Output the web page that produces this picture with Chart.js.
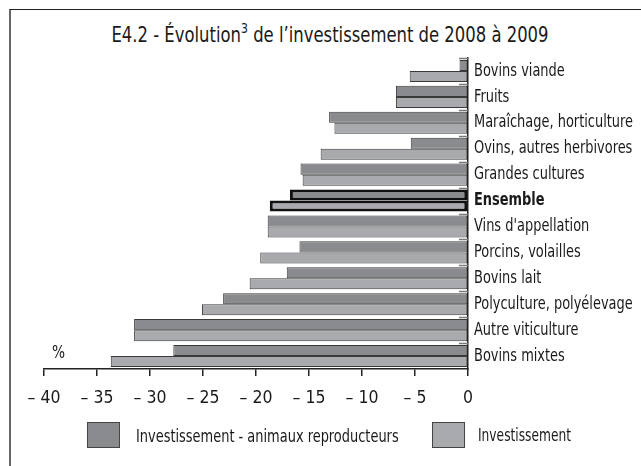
<!DOCTYPE html>
<html lang="fr">
<head>
<meta charset="utf-8">
<script src="https://cdn.jsdelivr.net/npm/chart.js@4.4.1/dist/chart.umd.min.js"></script>
<style>
  html, body { margin: 0; padding: 0; background: #fff; }
  #wrap { position: relative; width: 641px; height: 466px; overflow: hidden;
          font-family: "DejaVu Sans Condensed", "Liberation Sans", sans-serif; color: #1a1a1a; }
  #frame { position: absolute; left: 9px; top: 9px; width: 700px; height: 600px;
           border-top: 1px solid #222; border-left: 2px solid #666; }
  #title { position: absolute; left: 330px; top: 22px; white-space: nowrap;
           font-size: 21px; line-height: 26px; transform: translateX(-50%) scaleX(0.87); transform-origin: 50% 50%; }
  #title sup { font-size: 14px; line-height: 0; position: relative; top: -1px; }
  #pct { position: absolute; left: 52px; top: 342px; font-size: 18px; line-height: 20px; transform: scaleX(0.85); transform-origin: 0 0; }
  .lg { position: absolute; top: 422px; height: 26px; display: flex; align-items: center; white-space: nowrap; }
  .lg .box { width: 31px; height: 24px; border: 1px solid #444; margin-right: 16px; flex: none; }
  .lg span { font-size: 18px; display: inline-block; transform: scaleX(0.8); transform-origin: 0 50%; }
  canvas { position: absolute; left: 0; top: 0; }
</style>
</head>
<body>
<div id="wrap">
  <div id="frame"></div>
  <div id="title">E4.2 - Évolution<sup>3</sup> de l’investissement de 2008 à 2009</div>
  <canvas id="c" width="641" height="466"></canvas>
  <div id="pct">%</div>
  <div class="lg" style="left:87px"><div class="box" id="box0"></div><span id="lab0"></span></div>
  <div class="lg" style="left:432px"><div class="box" id="box1" style="margin-right:13px"></div><span id="lab1" style="font-size:17px"></span></div>
</div>
<script>
const categories = ['Bovins viande', 'Fruits', 'Maraîchage, horticulture', 'Ovins, autres herbivores',
  'Grandes cultures', 'Ensemble', "Vins d'appellation", 'Porcins, volailles', 'Bovins lait',
  'Polyculture, polyélevage', 'Autre viticulture', 'Bovins mixtes'];
const highlightCategory = 'Ensemble';
const seriesNames = ['Investissement - animaux reproducteurs', 'Investissement'];
const investHorsRepro = [-0.8, -6.8, -13.1, -5.4, -15.8, -16.8, -18.9, -15.9, -17.1, -23.1, -31.5, -27.8];
const investTotal = [-5.5, -6.8, -12.6, -13.9, -15.6, -18.7, -18.9, -19.6, -20.6, -25.1, -31.5, -33.7];
const xTickValues = [-40, -35, -30, -25, -20, -15, -10, -5, 0];
const xTickLabels = ['– 40', '– 35', '– 30', '– 25', '– 20', '– 15', '– 10', '– 5', '0'];

const FONT = '"DejaVu Sans Condensed", "Liberation Sans", sans-serif';
const colors = ['#8a8b8e', '#a9aaad'];

document.getElementById('lab0').textContent = seriesNames[0];
document.getElementById('lab1').textContent = seriesNames[1];
document.getElementById('box0').style.background = colors[0];
document.getElementById('box1').style.background = colors[1];

const isHi = ctx => categories[ctx.dataIndex] === highlightCategory;

// small tick marks on the inner side of the category axis, at category boundaries
const leftTicks = {
  id: 'leftTicks',
  afterDatasetsDraw(chart) {
    const y = chart.scales.y, ctx = chart.ctx, right = chart.chartArea.right;
    ctx.save();
    ctx.strokeStyle = '#777';
    ctx.lineWidth = 1.5;
    for (let i = 0; i < categories.length; i++) {
      const half = (i === 0 ? (y.getPixelForTick(1) - y.getPixelForTick(0)) : (y.getPixelForTick(i) - y.getPixelForTick(i - 1))) / 2;
      const py = Math.round(y.getPixelForTick(i) - half) + 0.5;
      ctx.beginPath();
      ctx.moveTo(right - 9, py);
      ctx.lineTo(right, py);
      ctx.stroke();
    }
    ctx.restore();
  }
};

// narrow the category labels horizontally (condensed look)
const condenseY = {
  id: 'condenseY',
  beforeDraw(chart) {
    const s = chart.scales.y;
    if (s._condensed) return;
    s._condensed = true;
    s._computeLabelArea = () => undefined;
    const orig = s.drawLabels;
    s.drawLabels = function (area) {
      const ctx = this.ctx;
      const ox = this.left + this.options.ticks.padding;
      ctx.save();
      ctx.translate(ox, 0); ctx.scale(0.8, 1); ctx.translate(-ox, 0);
      orig.call(this, area);
      ctx.restore();
    };
  }
};

new Chart(document.getElementById('c'), {
  type: 'bar',
  data: {
    labels: categories,
    datasets: [
      { label: seriesNames[0], data: investHorsRepro, backgroundColor: colors[0],
        borderColor: ctx => isHi(ctx) ? '#111' : '#3a3a3a', borderWidth: ctx => isHi(ctx) ? 3 : 1, borderSkipped: false },
      { label: seriesNames[1], data: investTotal, backgroundColor: colors[1],
        borderColor: ctx => isHi(ctx) ? '#111' : '#3a3a3a', borderWidth: ctx => isHi(ctx) ? 3 : 1, borderSkipped: false }
    ]
  },
  options: {
    indexAxis: 'y',
    responsive: false,
    animation: false,
    events: [],
    layout: { padding: { left: 44, top: 58, right: 0, bottom: 0 } },
    datasets: { bar: { categoryPercentage: 0.85, barPercentage: 1.0 } },
    plugins: { legend: { display: false }, tooltip: { enabled: false }, title: { display: false } },
    scales: {
      x: {
        type: 'linear', min: -40, max: 0, position: 'bottom',
        afterBuildTicks: s => { s.ticks = xTickValues.map(v => ({ value: v })); },
        afterFit: s => { s.height = 97; },
        border: { display: true, color: '#222', width: 1.5 },
        grid: { drawOnChartArea: false, drawTicks: true, tickLength: 7, color: '#222', lineWidth: 1.5 },
        ticks: { color: '#1a1a1a', padding: 12, maxRotation: 0,
          font: { family: FONT, size: 17.5 },
          callback: v => xTickLabels[xTickValues.indexOf(v)] }
      },
      y: {
        type: 'category', position: 'right',
        afterFit: s => { s.width = 173; },
        border: { display: true, color: '#222', width: 1.5 },
        grid: { display: false, drawTicks: false },
        ticks: { color: '#1a1a1a', padding: 6, autoSkip: false,
          font: ctx => ({ family: FONT, size: 18, weight: (ctx.tick && ctx.tick.label === highlightCategory) ? 'bold' : 'normal' }) }
      }
    }
  },
  plugins: [leftTicks, condenseY]
});
</script>
</body>
</html>
